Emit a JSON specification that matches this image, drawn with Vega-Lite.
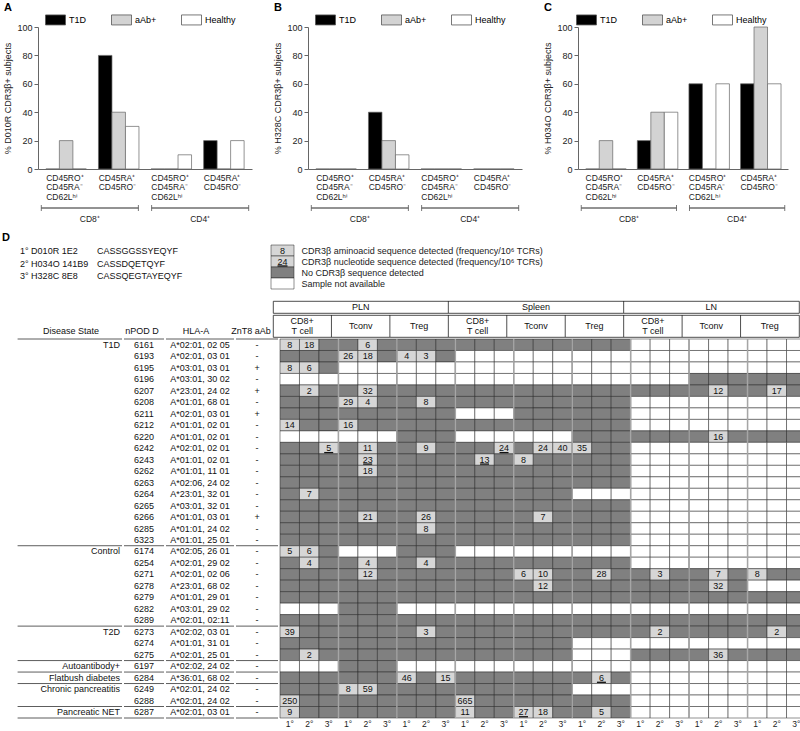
{
"$schema":"https://vega.github.io/schema/vega-lite/v6.json",
"background":"white",
"padding":{"left":2,"top":2,"right":2,"bottom":0},
"config":{"font":"Liberation Sans","view":{"stroke":null},"axis":{"labelColor":"#222","titleColor":"#222","domainColor":"#666","tickColor":"#666","titleFontWeight":"normal"},"title":{"color":"#000"},"text":{"color":"#111"}},
"datasets":{
"bars":[
{"p":"A","g":"CD8|CD45RO⁺|CD45RA⁻|CD62Lʰⁱ","s":"T1D","v":0},{"p":"A","g":"CD8|CD45RO⁺|CD45RA⁻|CD62Lʰⁱ","s":"aAb+","v":20},{"p":"A","g":"CD8|CD45RO⁺|CD45RA⁻|CD62Lʰⁱ","s":"Healthy","v":0},
{"p":"A","g":"CD8|CD45RA⁺|CD45RO⁻","s":"T1D","v":80},{"p":"A","g":"CD8|CD45RA⁺|CD45RO⁻","s":"aAb+","v":40},{"p":"A","g":"CD8|CD45RA⁺|CD45RO⁻","s":"Healthy","v":30},
{"p":"A","g":"CD4|CD45RO⁺|CD45RA⁻|CD62Lʰⁱ","s":"T1D","v":0},{"p":"A","g":"CD4|CD45RO⁺|CD45RA⁻|CD62Lʰⁱ","s":"aAb+","v":0},{"p":"A","g":"CD4|CD45RO⁺|CD45RA⁻|CD62Lʰⁱ","s":"Healthy","v":10},
{"p":"A","g":"CD4|CD45RA⁺|CD45RO⁻","s":"T1D","v":20},{"p":"A","g":"CD4|CD45RA⁺|CD45RO⁻","s":"aAb+","v":0},{"p":"A","g":"CD4|CD45RA⁺|CD45RO⁻","s":"Healthy","v":20},
{"p":"B","g":"CD8|CD45RO⁺|CD45RA⁻|CD62Lʰⁱ","s":"T1D","v":0},{"p":"B","g":"CD8|CD45RO⁺|CD45RA⁻|CD62Lʰⁱ","s":"aAb+","v":0},{"p":"B","g":"CD8|CD45RO⁺|CD45RA⁻|CD62Lʰⁱ","s":"Healthy","v":0},
{"p":"B","g":"CD8|CD45RA⁺|CD45RO⁻","s":"T1D","v":40},{"p":"B","g":"CD8|CD45RA⁺|CD45RO⁻","s":"aAb+","v":20},{"p":"B","g":"CD8|CD45RA⁺|CD45RO⁻","s":"Healthy","v":10},
{"p":"B","g":"CD4|CD45RO⁺|CD45RA⁻|CD62Lʰⁱ","s":"T1D","v":0},{"p":"B","g":"CD4|CD45RO⁺|CD45RA⁻|CD62Lʰⁱ","s":"aAb+","v":0},{"p":"B","g":"CD4|CD45RO⁺|CD45RA⁻|CD62Lʰⁱ","s":"Healthy","v":0},
{"p":"B","g":"CD4|CD45RA⁺|CD45RO⁻","s":"T1D","v":0},{"p":"B","g":"CD4|CD45RA⁺|CD45RO⁻","s":"aAb+","v":0},{"p":"B","g":"CD4|CD45RA⁺|CD45RO⁻","s":"Healthy","v":0},
{"p":"C","g":"CD8|CD45RO⁺|CD45RA⁻|CD62Lʰⁱ","s":"T1D","v":0},{"p":"C","g":"CD8|CD45RO⁺|CD45RA⁻|CD62Lʰⁱ","s":"aAb+","v":20},{"p":"C","g":"CD8|CD45RO⁺|CD45RA⁻|CD62Lʰⁱ","s":"Healthy","v":0},
{"p":"C","g":"CD8|CD45RA⁺|CD45RO⁻","s":"T1D","v":20},{"p":"C","g":"CD8|CD45RA⁺|CD45RO⁻","s":"aAb+","v":40},{"p":"C","g":"CD8|CD45RA⁺|CD45RO⁻","s":"Healthy","v":40},
{"p":"C","g":"CD4|CD45RO⁺|CD45RA⁻|CD62Lʰⁱ","s":"T1D","v":60},{"p":"C","g":"CD4|CD45RO⁺|CD45RA⁻|CD62Lʰⁱ","s":"aAb+","v":0},{"p":"C","g":"CD4|CD45RO⁺|CD45RA⁻|CD62Lʰⁱ","s":"Healthy","v":60},
{"p":"C","g":"CD4|CD45RA⁺|CD45RO⁻","s":"T1D","v":60},{"p":"C","g":"CD4|CD45RA⁺|CD45RO⁻","s":"aAb+","v":100},{"p":"C","g":"CD4|CD45RA⁺|CD45RO⁻","s":"Healthy","v":60}
],
"pts":[
{"dis":"T1D","npod":"6161","hla":"A*02:01, 02 05","znt8":"-","P81":"8","P82":"18","Pc2":"6","L81":"x","L82":"x","L83":"x","Lc1":"x","Lc2":"x","Lc3":"x","Lr1":"x","Lr2":"x","Lr3":"x"},
{"dis":"","npod":"6193","hla":"A*02:01, 03 01","znt8":"-","Pc1":"26","Pc2":"18","Pr1":"4","Pr2":"3","S81":"x","S82":"x","S83":"x","Sc1":"x","Sc2":"x","Sc3":"x","Sr1":"x","Sr2":"x","Sr3":"x","L81":"x","L82":"x","L83":"x","Lc1":"x","Lc2":"x","Lc3":"x","Lr1":"x","Lr2":"x","Lr3":"x"},
{"dis":"","npod":"6195","hla":"A*03:01, 03 01","znt8":"+","P81":"8","P82":"6","Pc1":"x","Pc2":"x","Pc3":"x","Pr1":"x","Pr2":"x","Pr3":"x","S81":"x","S82":"x","S83":"x","Sc1":"x","Sc2":"x","Sc3":"x","Sr1":"x","Sr2":"x","Sr3":"x","L81":"x","L82":"x","L83":"x","Lc1":"x","Lc2":"x","Lc3":"x","Lr1":"x","Lr2":"x","Lr3":"x"},
{"dis":"","npod":"6196","hla":"A*03:01, 30 02","znt8":"-","P81":"x","P82":"x","P83":"x","Pc1":"x","Pc2":"x","Pc3":"x","Pr1":"x","Pr2":"x","Pr3":"x","S81":"x","S82":"x","S83":"x","Sc1":"x","Sc2":"x","Sc3":"x","Sr1":"x","Sr2":"x","Sr3":"x","L81":"x","L82":"x","L83":"x"},
{"dis":"","npod":"6207","hla":"A*23:01, 24 02","znt8":"+","P82":"2","Pc2":"32","Lc2":"12","Lr2":"17"},
{"dis":"","npod":"6208","hla":"A*01:01, 68 01","znt8":"-","Pc1":"29","Pc2":"4","Pr2":"8","L81":"x","L82":"x","L83":"x","Lc1":"x","Lc2":"x","Lc3":"x","Lr1":"x","Lr2":"x","Lr3":"x"},
{"dis":"","npod":"6211","hla":"A*02:01, 03 01","znt8":"+","S81":"x","S82":"x","S83":"x","L81":"x","L82":"x","L83":"x","Lc1":"x","Lc2":"x","Lc3":"x","Lr1":"x","Lr2":"x","Lr3":"x"},
{"dis":"","npod":"6212","hla":"A*01:01, 02 01","znt8":"-","P81":"14","Pc1":"16","L81":"x","L82":"x","L83":"x","Lc1":"x","Lc2":"x","Lc3":"x","Lr1":"x","Lr2":"x","Lr3":"x"},
{"dis":"","npod":"6220","hla":"A*01:01, 02 01","znt8":"-","P81":"x","P82":"x","P83":"x","Pc1":"x","Pc2":"x","Pc3":"x","S81":"x","S82":"x","S83":"x","Sc1":"x","Sc2":"x","Sc3":"x","Lc2":"16"},
{"dis":"","npod":"6242","hla":"A*02:01, 02 01","znt8":"-","P83":"_5","Pc2":"11","Pr2":"9","S83":"_24","Sc2":"24","Sc3":"40","Sr1":"35","L81":"x","L82":"x","L83":"x","Lc1":"x","Lc2":"x","Lc3":"x","Lr1":"x","Lr2":"x","Lr3":"x"},
{"dis":"","npod":"6243","hla":"A*01:01, 02 01","znt8":"-","Pc2":"_23","S82":"_13","Sc1":"8","L81":"x","L82":"x","L83":"x","Lc1":"x","Lc2":"x","Lc3":"x","Lr1":"x","Lr2":"x","Lr3":"x"},
{"dis":"","npod":"6262","hla":"A*01:01, 11 01","znt8":"-","Pc2":"18","L81":"x","L82":"x","L83":"x","Lc1":"x","Lc2":"x","Lc3":"x","Lr1":"x","Lr2":"x","Lr3":"x"},
{"dis":"","npod":"6263","hla":"A*02:06, 24 02","znt8":"-","L81":"x","L82":"x","L83":"x","Lc1":"x","Lc2":"x","Lc3":"x","Lr1":"x","Lr2":"x","Lr3":"x"},
{"dis":"","npod":"6264","hla":"A*23:01, 32 01","znt8":"-","P82":"7","Sr1":"x","Sr2":"x","Sr3":"x","L81":"x","L82":"x","L83":"x","Lc1":"x","Lc2":"x","Lc3":"x","Lr1":"x","Lr2":"x","Lr3":"x"},
{"dis":"","npod":"6265","hla":"A*03:01, 32 01","znt8":"-","L81":"x","L82":"x","L83":"x","Lc1":"x","Lc2":"x","Lc3":"x","Lr1":"x","Lr2":"x","Lr3":"x"},
{"dis":"","npod":"6266","hla":"A*01:01, 03 01","znt8":"+","Pc2":"21","Pr2":"26","Sc2":"7","L81":"x","L82":"x","L83":"x","Lc1":"x","Lc2":"x","Lc3":"x","Lr1":"x","Lr2":"x","Lr3":"x"},
{"dis":"","npod":"6285","hla":"A*01:01, 24 02","znt8":"-","Pr2":"8","L81":"x","L82":"x","L83":"x","Lc1":"x","Lc2":"x","Lc3":"x","Lr1":"x","Lr2":"x","Lr3":"x"},
{"dis":"","npod":"6323","hla":"A*01:01, 25 01","znt8":"-","L81":"x","L82":"x","L83":"x","Lc1":"x","Lc2":"x","Lc3":"x","Lr1":"x","Lr2":"x","Lr3":"x"},
{"dis":"Control","npod":"6174","hla":"A*02:05, 26 01","znt8":"-","P81":"5","P82":"6","Pc1":"x","Pc2":"x","Pc3":"x","S81":"x","S82":"x","S83":"x","Sc1":"x","Sc2":"x","Sc3":"x","Sr1":"x","Sr2":"x","Sr3":"x","L81":"x","L82":"x","L83":"x","Lc1":"x","Lc2":"x","Lc3":"x","Lr1":"x","Lr2":"x","Lr3":"x"},
{"dis":"","npod":"6254","hla":"A*02:01, 29 02","znt8":"-","P82":"4","Pc2":"4","Pr2":"4","L81":"x","L82":"x","L83":"x","Lc1":"x","Lc2":"x","Lc3":"x","Lr1":"x","Lr2":"x","Lr3":"x"},
{"dis":"","npod":"6271","hla":"A*02:01, 02 06","znt8":"-","Pc2":"12","Sc1":"6","Sc2":"10","Sr2":"28","L82":"3","Lc2":"7","Lr1":"8"},
{"dis":"","npod":"6278","hla":"A*23:01, 68 02","znt8":"-","Sc2":"12","Lc2":"32","Lr1":"x","Lr2":"x","Lr3":"x"},
{"dis":"","npod":"6279","hla":"A*01:01, 29 01","znt8":"-"},
{"dis":"","npod":"6282","hla":"A*03:01, 29 02","znt8":"-","P81":"x","P82":"x","P83":"x","Pr1":"x","Pr2":"x","Pr3":"x","S81":"x","S82":"x","S83":"x","Sc1":"x","Sc2":"x","Sc3":"x","Sr1":"x","Sr2":"x","Sr3":"x","L81":"x","L82":"x","L83":"x","Lc1":"x","Lc2":"x","Lc3":"x","Lr1":"x","Lr2":"x","Lr3":"x"},
{"dis":"","npod":"6289","hla":"A*02:01, 02:11","znt8":"-"},
{"dis":"T2D","npod":"6273","hla":"A*02:02, 03 01","znt8":"-","P81":"39","Pr2":"3","L82":"2","Lr2":"2"},
{"dis":"","npod":"6274","hla":"A*01:01, 31 01","znt8":"-","Sr1":"x","Sr2":"x","Sr3":"x","L81":"x","L82":"x","L83":"x","Lc1":"x","Lc2":"x","Lc3":"x","Lr1":"x","Lr2":"x","Lr3":"x"},
{"dis":"","npod":"6275","hla":"A*02:01, 25 01","znt8":"-","P82":"2","Sr1":"x","Sr2":"x","Sr3":"x","Lc2":"36"},
{"dis":"Autoantibody+","npod":"6197","hla":"A*02:02, 24 02","znt8":"-","P81":"x","P82":"x","P83":"x","Pr1":"x","Pr2":"x","Pr3":"x","S81":"x","S82":"x","S83":"x","Sc1":"x","Sc2":"x","Sc3":"x","Sr1":"x","Sr2":"x","Sr3":"x","L81":"x","L82":"x","L83":"x","Lc1":"x","Lc2":"x","Lc3":"x","Lr1":"x","Lr2":"x","Lr3":"x"},
{"dis":"Flatbush diabetes","npod":"6284","hla":"A*36:01, 68 02","znt8":"-","Pr1":"46","Pr3":"15","Sr2":"_6","L81":"x","L82":"x","L83":"x","Lc1":"x","Lc2":"x","Lc3":"x","Lr1":"x","Lr2":"x","Lr3":"x"},
{"dis":"Chronic pancreatitis","npod":"6249","hla":"A*02:01, 24 02","znt8":"-","Pc1":"8","Pc2":"59","Sr1":"x","Sr2":"x","Sr3":"x","L81":"x","L82":"x","L83":"x","Lc1":"x","Lc2":"x","Lc3":"x","Lr1":"x","Lr2":"x","Lr3":"x"},
{"dis":"","npod":"6288","hla":"A*02:01, 24 02","znt8":"-","P81":"250","S81":"665","L81":"x","L82":"x","L83":"x","Lc1":"x","Lc2":"x","Lc3":"x","Lr1":"x","Lr2":"x","Lr3":"x"},
{"dis":"Pancreatic NET","npod":"6287","hla":"A*02:01, 03 01","znt8":"-","P81":"9","S81":"11","Sc1":"_27","Sc2":"18","Sr2":"5","L81":"x","L82":"x","L83":"x","Lc1":"x","Lc2":"x","Lc3":"x","Lr1":"x","Lr2":"x","Lr3":"x"}
]
},
"spacing":8,
"resolve":{"scale":{"color":"independent"},"legend":{"color":"independent"}},
"vconcat":[
{"hconcat":[
 {"width":1,"height":1,"data":{"values":[{"h":""}]},"mark":{"type":"text"},"encoding":{"text":{"field":"h"}}},
 {"hconcat":[
 {"spacing":36,"bounds":"flush","vconcat":[
  {"title":{"text":"A","anchor":"start","fontSize":11,"fontWeight":"bold","offset":10},"width":214,"height":142,"data":{"name":"bars"},"transform":[{"filter":"datum.p == 'A'"}],
   "mark":{"type":"bar","stroke":"#666","strokeWidth":0.7},
   "encoding":{
    "x":{"field":"g","type":"nominal","sort":null,"scale":{"paddingInner":0.23,"paddingOuter":0.15},"axis":{"title":null,"ticks":false,"labelAngle":0,"labelAlign":"left","labelBaseline":"top","labelOffset":-20,"labelPadding":4,"labelFontSize":8.5,"labelLineHeight":9.5,"labelOverlap":false,"labelExpr":"slice(split(datum.label, '|'), 1)"}},
    "xOffset":{"field":"s","type":"nominal","sort":["T1D","aAb+","Healthy"],"scale":{"paddingInner":0,"paddingOuter":0}},
    "y":{"field":"v","type":"quantitative","scale":{"domain":[0,100]},"axis":{"title":"% D010R CDR3β+ subjects","grid":false,"values":[0,20,40,60,80,100],"tickSize":4,"labelFontSize":9,"labelPadding":2,"titleFontSize":9,"titlePadding":4}},
    "color":{"field":"s","type":"nominal","scale":{"domain":["T1D","aAb+","Healthy"],"range":["#000000","#d3d3d3","#ffffff"]},"legend":{"title":null,"orient":"none","legendX":12,"legendY":-13,"direction":"horizontal","symbolType":"M-2,-1H2V1H-2Z","symbolSize":100,"symbolStrokeColor":"#555","symbolStrokeWidth":0.8,"labelFontSize":9,"labelOffset":8,"columnPadding":22,"padding":0}}
   }},
  {"width":214,"height":6,"data":{"values":[{"s":"CD8⁺"},{"s":"CD4⁺"}]},
   "encoding":{"x":{"field":"s","type":"nominal","sort":null,"scale":{"type":"band","paddingInner":0.12,"paddingOuter":0.03},"axis":{"title":null,"domain":false,"ticks":false,"labelAngle":0,"labelFontSize":8.5,"labelPadding":3}}},
   "layer":[
    {"mark":{"type":"bar","fill":"transparent","stroke":"#555","strokeWidth":0.8},"encoding":{"y":{"datum":0.5,"type":"quantitative","scale":{"domain":[0,1]},"axis":null},"y2":{"datum":0.5}}},
    {"mark":{"type":"rule","color":"#555","strokeWidth":0.8},"encoding":{"x":{"field":"s","type":"nominal","sort":null,"bandPosition":0,"scale":{"type":"band","paddingInner":0.12,"paddingOuter":0.03}}}},
    {"mark":{"type":"rule","color":"#555","strokeWidth":0.8},"encoding":{"x":{"field":"s","type":"nominal","sort":null,"bandPosition":1,"scale":{"type":"band","paddingInner":0.12,"paddingOuter":0.03}}}}
   ]}
 ]},
 {"spacing":36,"bounds":"flush","vconcat":[
  {"title":{"text":"B","anchor":"start","fontSize":11,"fontWeight":"bold","offset":10},"width":214,"height":142,"data":{"name":"bars"},"transform":[{"filter":"datum.p == 'B'"}],
   "mark":{"type":"bar","stroke":"#666","strokeWidth":0.7},
   "encoding":{
    "x":{"field":"g","type":"nominal","sort":null,"scale":{"paddingInner":0.23,"paddingOuter":0.15},"axis":{"title":null,"ticks":false,"labelAngle":0,"labelAlign":"left","labelBaseline":"top","labelOffset":-20,"labelPadding":4,"labelFontSize":8.5,"labelLineHeight":9.5,"labelOverlap":false,"labelExpr":"slice(split(datum.label, '|'), 1)"}},
    "xOffset":{"field":"s","type":"nominal","sort":["T1D","aAb+","Healthy"],"scale":{"paddingInner":0,"paddingOuter":0}},
    "y":{"field":"v","type":"quantitative","scale":{"domain":[0,100]},"axis":{"title":"% H328C CDR3β+ subjects","grid":false,"values":[0,20,40,60,80,100],"tickSize":4,"labelFontSize":9,"labelPadding":2,"titleFontSize":9,"titlePadding":4}},
    "color":{"field":"s","type":"nominal","scale":{"domain":["T1D","aAb+","Healthy"],"range":["#000000","#d3d3d3","#ffffff"]},"legend":{"title":null,"orient":"none","legendX":12,"legendY":-13,"direction":"horizontal","symbolType":"M-2,-1H2V1H-2Z","symbolSize":100,"symbolStrokeColor":"#555","symbolStrokeWidth":0.8,"labelFontSize":9,"labelOffset":8,"columnPadding":22,"padding":0}}
   }},
  {"width":214,"height":6,"data":{"values":[{"s":"CD8⁺"},{"s":"CD4⁺"}]},
   "encoding":{"x":{"field":"s","type":"nominal","sort":null,"scale":{"type":"band","paddingInner":0.12,"paddingOuter":0.03},"axis":{"title":null,"domain":false,"ticks":false,"labelAngle":0,"labelFontSize":8.5,"labelPadding":3}}},
   "layer":[
    {"mark":{"type":"bar","fill":"transparent","stroke":"#555","strokeWidth":0.8},"encoding":{"y":{"datum":0.5,"type":"quantitative","scale":{"domain":[0,1]},"axis":null},"y2":{"datum":0.5}}},
    {"mark":{"type":"rule","color":"#555","strokeWidth":0.8},"encoding":{"x":{"field":"s","type":"nominal","sort":null,"bandPosition":0,"scale":{"type":"band","paddingInner":0.12,"paddingOuter":0.03}}}},
    {"mark":{"type":"rule","color":"#555","strokeWidth":0.8},"encoding":{"x":{"field":"s","type":"nominal","sort":null,"bandPosition":1,"scale":{"type":"band","paddingInner":0.12,"paddingOuter":0.03}}}}
   ]}
 ]},
 {"spacing":36,"bounds":"flush","vconcat":[
  {"title":{"text":"C","anchor":"start","fontSize":11,"fontWeight":"bold","offset":10},"width":210,"height":142,"data":{"name":"bars"},"transform":[{"filter":"datum.p == 'C'"}],
   "mark":{"type":"bar","stroke":"#666","strokeWidth":0.7},
   "encoding":{
    "x":{"field":"g","type":"nominal","sort":null,"scale":{"paddingInner":0.23,"paddingOuter":0.15},"axis":{"title":null,"ticks":false,"labelAngle":0,"labelAlign":"left","labelBaseline":"top","labelOffset":-20,"labelPadding":4,"labelFontSize":8.5,"labelLineHeight":9.5,"labelOverlap":false,"labelExpr":"slice(split(datum.label, '|'), 1)"}},
    "xOffset":{"field":"s","type":"nominal","sort":["T1D","aAb+","Healthy"],"scale":{"paddingInner":0,"paddingOuter":0}},
    "y":{"field":"v","type":"quantitative","scale":{"domain":[0,100]},"axis":{"title":"% H034O CDR3β+ subjects","grid":false,"values":[0,20,40,60,80,100],"tickSize":4,"labelFontSize":9,"labelPadding":2,"titleFontSize":9,"titlePadding":4}},
    "color":{"field":"s","type":"nominal","scale":{"domain":["T1D","aAb+","Healthy"],"range":["#000000","#d3d3d3","#ffffff"]},"legend":{"title":null,"orient":"none","legendX":3,"legendY":-13,"direction":"horizontal","symbolType":"M-2,-1H2V1H-2Z","symbolSize":100,"symbolStrokeColor":"#555","symbolStrokeWidth":0.8,"labelFontSize":9,"labelOffset":8,"columnPadding":22,"padding":0}}
   }},
  {"width":210,"height":6,"data":{"values":[{"s":"CD8⁺"},{"s":"CD4⁺"}]},
   "encoding":{"x":{"field":"s","type":"nominal","sort":null,"scale":{"type":"band","paddingInner":0.12,"paddingOuter":0.03},"axis":{"title":null,"domain":false,"ticks":false,"labelAngle":0,"labelFontSize":8.5,"labelPadding":3}}},
   "layer":[
    {"mark":{"type":"bar","fill":"transparent","stroke":"#555","strokeWidth":0.8},"encoding":{"y":{"datum":0.5,"type":"quantitative","scale":{"domain":[0,1]},"axis":null},"y2":{"datum":0.5}}},
    {"mark":{"type":"rule","color":"#555","strokeWidth":0.8},"encoding":{"x":{"field":"s","type":"nominal","sort":null,"bandPosition":0,"scale":{"type":"band","paddingInner":0.12,"paddingOuter":0.03}}}},
    {"mark":{"type":"rule","color":"#555","strokeWidth":0.8},"encoding":{"x":{"field":"s","type":"nominal","sort":null,"bandPosition":1,"scale":{"type":"band","paddingInner":0.12,"paddingOuter":0.03}}}}
   ]}
 ]}
 ],"spacing":21,"resolve":{"scale":{"color":"independent"},"legend":{"color":"independent"}}}
],"spacing":0,"resolve":{"scale":{"color":"independent"},"legend":{"color":"independent"}}},
{"title":{"text":"D","anchor":"start","fontSize":11,"fontWeight":"bold","offset":2},"spacing":10,"vconcat":[
 {"hconcat":[
  {"width":190,"height":37.5,"data":{"values":[{"k":"1°","part":"tcr","t":"1° D010R 1E2"},{"k":"1°","part":"cdr3","t":"CASSGGSSYEQYF"},{"k":"2°","part":"tcr","t":"2° H034O 141B9"},{"k":"2°","part":"cdr3","t":"CASSDQETQYF"},{"k":"3°","part":"tcr","t":"3° H328C 8E8"},{"k":"3°","part":"cdr3","t":"CASSQEGTAYEQYF"}]},
   "mark":{"type":"text","align":"left","fontSize":9},
   "encoding":{"y":{"field":"k","type":"nominal","sort":null,"scale":{"type":"band","paddingInner":0,"paddingOuter":0},"axis":null},"x":{"field":"part","type":"nominal","sort":null,"bandPosition":0,"scale":{"type":"band","paddingInner":0,"paddingOuter":0.234},"axis":null},"text":{"field":"t"}}},
  {"width":23,"height":44,"data":{"values":[{"d":"CDR3β aminoacid sequence detected (frequency/10⁶ TCRs)","st":"aa","ex":"8"},{"d":"CDR3β nucleotide sequence detected (frequency/10⁶ TCRs)","st":"nt","ex":"24"},{"d":"No CDR3β sequence detected","st":"none","ex":""},{"d":"Sample not available","st":"na","ex":""}]},
   "encoding":{"y":{"field":"d","type":"nominal","sort":null,"scale":{"type":"band","paddingInner":0,"paddingOuter":0},"axis":{"orient":"right","title":null,"domain":false,"ticks":false,"labelPadding":7,"labelFontSize":9,"labelLimit":0}}},
   "layer":[
    {"mark":{"type":"rect","stroke":"#222","strokeWidth":0.5},"encoding":{"fill":{"field":"st","type":"nominal","scale":{"domain":["aa","nt","none","na"],"range":["#d6d6d6","#d6d6d6","#808080","#ffffff"]},"legend":null}}},
    {"mark":{"type":"text","fontSize":9},"encoding":{"text":{"field":"ex"}}},
    {"mark":{"type":"tick","orient":"horizontal","size":10,"thickness":1.3,"yOffset":4.5,"color":"#111"},"encoding":{"opacity":{"condition":{"test":"datum.st == 'nt'","value":1},"value":0}}}
   ]}
 ],"spacing":78},
 {"spacing":0,"vconcat":[
  {"hconcat":[
   {"width":270,"height":12,"data":{"values":[{"h":""}]},"mark":{"type":"text"},"encoding":{"text":{"field":"h"}}},
   {"width":526,"height":12,"view":{"stroke":"#222","strokeWidth":0.8},
    "layer":[
     {"data":{"values":[{"col":"Pc2","t":"PLN"},{"col":"Sc2","t":"Spleen"},{"col":"Lc2","t":"LN"}]},"mark":{"type":"text","fontSize":9},"encoding":{"x":{"field":"col","type":"nominal","scale":{"type":"band","domain":["P81","P82","P83","Pc1","Pc2","Pc3","Pr1","Pr2","Pr3","S81","S82","S83","Sc1","Sc2","Sc3","Sr1","Sr2","Sr3","L81","L82","L83","Lc1","Lc2","Lc3","Lr1","Lr2","Lr3"],"paddingInner":0,"paddingOuter":0},"axis":null},"text":{"field":"t"}}},
     {"data":{"values":[{"col":"S81"},{"col":"L81"}]},"mark":{"type":"rule","color":"#222","strokeWidth":0.8},"encoding":{"x":{"field":"col","type":"nominal","bandPosition":0,"scale":{"type":"band","domain":["P81","P82","P83","Pc1","Pc2","Pc3","Pr1","Pr2","Pr3","S81","S82","S83","Sc1","Sc2","Sc3","Sr1","Sr2","Sr3","L81","L82","L83","Lc1","Lc2","Lc3","Lr1","Lr2","Lr3"],"paddingInner":0,"paddingOuter":0},"axis":null}}}
    ]}
  ],"spacing":0},
  {"hconcat":[
   {"width":120,"height":22,"data":{"values":[{"h":"Disease State"}]},"mark":{"type":"text","fontSize":9,"dy":5,"dx":9},"encoding":{"text":{"field":"h"}}},
   {"width":40,"height":22,"data":{"values":[{"h":"nPOD  D"}]},"mark":{"type":"text","fontSize":9,"dy":5},"encoding":{"text":{"field":"h"}}},
   {"width":68,"height":22,"data":{"values":[{"h":"HLA-A"}]},"mark":{"type":"text","fontSize":9,"dy":5},"encoding":{"text":{"field":"h"}}},
   {"width":42,"height":22,"data":{"values":[{"h":"ZnT8 aAb"}]},"mark":{"type":"text","fontSize":9,"dy":5},"encoding":{"text":{"field":"h"}}},
   {"width":526,"height":22,"view":{"stroke":"#222","strokeWidth":0.8},
    "layer":[
     {"data":{"values":[{"col":"P82","t":"CD8+\nT cell"},{"col":"S82","t":"CD8+\nT cell"},{"col":"L82","t":"CD8+\nT cell"}]},"mark":{"type":"text","fontSize":9,"lineBreak":"\n","lineHeight":10.5,"dy":-5.5},"encoding":{"x":{"field":"col","type":"nominal","scale":{"type":"band","domain":["P81","P82","P83","Pc1","Pc2","Pc3","Pr1","Pr2","Pr3","S81","S82","S83","Sc1","Sc2","Sc3","Sr1","Sr2","Sr3","L81","L82","L83","Lc1","Lc2","Lc3","Lr1","Lr2","Lr3"],"paddingInner":0,"paddingOuter":0},"axis":null},"text":{"field":"t"}}},
     {"data":{"values":[{"col":"Pc2","t":"Tconv"},{"col":"Pr2","t":"Treg"},{"col":"Sc2","t":"Tconv"},{"col":"Sr2","t":"Treg"},{"col":"Lc2","t":"Tconv"},{"col":"Lr2","t":"Treg"}]},"mark":{"type":"text","fontSize":9},"encoding":{"x":{"field":"col","type":"nominal","scale":{"type":"band","domain":["P81","P82","P83","Pc1","Pc2","Pc3","Pr1","Pr2","Pr3","S81","S82","S83","Sc1","Sc2","Sc3","Sr1","Sr2","Sr3","L81","L82","L83","Lc1","Lc2","Lc3","Lr1","Lr2","Lr3"],"paddingInner":0,"paddingOuter":0},"axis":null},"text":{"field":"t"}}},
     {"data":{"values":[{"col":"Pc1"},{"col":"Pr1"},{"col":"S81"},{"col":"Sc1"},{"col":"Sr1"},{"col":"L81"},{"col":"Lc1"},{"col":"Lr1"}]},"mark":{"type":"rule","color":"#222","strokeWidth":0.8},"encoding":{"x":{"field":"col","type":"nominal","bandPosition":0,"scale":{"type":"band","domain":["P81","P82","P83","Pc1","Pc2","Pc3","Pr1","Pr2","Pr3","S81","S82","S83","Sc1","Sc2","Sc3","Sr1","Sr2","Sr3","L81","L82","L83","Lc1","Lc2","Lc3","Lr1","Lr2","Lr3"],"paddingInner":0,"paddingOuter":0},"axis":null}}}
    ]}
  ],"spacing":0},
  {"hconcat":[
   {"width":120,"height":379,"data":{"name":"pts"},
    "encoding":{"y":{"field":"npod","type":"nominal","sort":null,"scale":{"paddingInner":0,"paddingOuter":0},"axis":null}},
    "layer":[
     {"mark":{"type":"text","fontSize":9,"align":"right","dx":-2},"encoding":{"x":{"value":"width"},"text":{"field":"dis"}}},
     {"mark":{"type":"rule","color":"#333","strokeWidth":0.8},"encoding":{"x":{"datum":0.13,"type":"quantitative","scale":{"domain":[0,1]},"axis":null},"x2":{"datum":1},"y":{"field":"npod","type":"nominal","sort":null,"bandPosition":0,"scale":{"paddingInner":0,"paddingOuter":0},"axis":null},"strokeOpacity":{"condition":{"test":"datum.dis != ''","value":1},"value":0}}},
     {"mark":{"type":"rule","color":"#333","strokeWidth":0.8},"encoding":{"x":{"datum":0.13,"type":"quantitative","scale":{"domain":[0,1]},"axis":null},"x2":{"datum":1},"y":{"field":"npod","type":"nominal","sort":null,"bandPosition":1,"scale":{"paddingInner":0,"paddingOuter":0},"axis":null},"strokeOpacity":{"condition":{"test":"datum.npod == '6287'","value":1},"value":0}}}
    ]},
   {"width":40,"height":379,"data":{"name":"pts"},
    "encoding":{"y":{"field":"npod","type":"nominal","sort":null,"scale":{"paddingInner":0,"paddingOuter":0},"axis":null}},
    "layer":[
     {"mark":{"type":"text","fontSize":9},"encoding":{"text":{"field":"npod"}}},
     {"mark":{"type":"rule","color":"#333","strokeWidth":0.8},"encoding":{"y":{"field":"npod","type":"nominal","sort":null,"bandPosition":0,"scale":{"paddingInner":0,"paddingOuter":0},"axis":null},"strokeOpacity":{"condition":{"test":"datum.dis != ''","value":1},"value":0}}},
     {"mark":{"type":"rule","color":"#333","strokeWidth":0.8},"encoding":{"y":{"field":"npod","type":"nominal","sort":null,"bandPosition":1,"scale":{"paddingInner":0,"paddingOuter":0},"axis":null},"strokeOpacity":{"condition":{"test":"datum.npod == '6287'","value":1},"value":0}}}
    ]},
   {"width":68,"height":379,"data":{"name":"pts"},
    "encoding":{"y":{"field":"npod","type":"nominal","sort":null,"scale":{"paddingInner":0,"paddingOuter":0},"axis":null}},
    "layer":[
     {"mark":{"type":"text","fontSize":9},"encoding":{"text":{"field":"hla"}}},
     {"mark":{"type":"rule","color":"#333","strokeWidth":0.8},"encoding":{"y":{"field":"npod","type":"nominal","sort":null,"bandPosition":0,"scale":{"paddingInner":0,"paddingOuter":0},"axis":null},"strokeOpacity":{"condition":{"test":"datum.dis != ''","value":1},"value":0}}},
     {"mark":{"type":"rule","color":"#333","strokeWidth":0.8},"encoding":{"y":{"field":"npod","type":"nominal","sort":null,"bandPosition":1,"scale":{"paddingInner":0,"paddingOuter":0},"axis":null},"strokeOpacity":{"condition":{"test":"datum.npod == '6287'","value":1},"value":0}}}
    ]},
   {"width":42,"height":379,"data":{"name":"pts"},
    "encoding":{"y":{"field":"npod","type":"nominal","sort":null,"scale":{"paddingInner":0,"paddingOuter":0},"axis":null}},
    "layer":[
     {"mark":{"type":"text","fontSize":9},"encoding":{"text":{"field":"znt8"}}},
     {"mark":{"type":"rule","color":"#333","strokeWidth":0.8},"encoding":{"y":{"field":"npod","type":"nominal","sort":null,"bandPosition":0,"scale":{"paddingInner":0,"paddingOuter":0},"axis":null},"strokeOpacity":{"condition":{"test":"datum.dis != ''","value":1},"value":0}}},
     {"mark":{"type":"rule","color":"#333","strokeWidth":0.8},"encoding":{"y":{"field":"npod","type":"nominal","sort":null,"bandPosition":1,"scale":{"paddingInner":0,"paddingOuter":0},"axis":null},"strokeOpacity":{"condition":{"test":"datum.npod == '6287'","value":1},"value":0}}}
    ]},
   {"width":526,"height":379,
    "encoding":{"x":{"field":"col","type":"nominal","scale":{"domain":["P81","P82","P83","Pc1","Pc2","Pc3","Pr1","Pr2","Pr3","S81","S82","S83","Sc1","Sc2","Sc3","Sr1","Sr2","Sr3","L81","L82","L83","Lc1","Lc2","Lc3","Lr1","Lr2","Lr3"],"paddingInner":0,"paddingOuter":0},"axis":{"title":null,"orient":"bottom","domain":false,"ticks":false,"labelAngle":0,"labelFontSize":8.5,"labelPadding":1,"labelExpr":"substring(datum.label, 2) + '°'"}}},
    "layer":[
     {"data":{"name":"pts"},
      "transform":[
       {"fold":["P81","P82","P83","Pc1","Pc2","Pc3","Pr1","Pr2","Pr3","S81","S82","S83","Sc1","Sc2","Sc3","Sr1","Sr2","Sr3","L81","L82","L83","Lc1","Lc2","Lc3","Lr1","Lr2","Lr3"],"as":["col","v"]},
       {"calculate":"datum.v == null || datum.v == 'n' ? 'none' : (datum.v == 'x' ? 'na' : (substring(datum.v, 0, 1) == '_' ? 'nt' : 'aa'))","as":"st"},
       {"calculate":"datum.st == 'aa' ? datum.v : (datum.st == 'nt' ? substring(datum.v, 1) : '')","as":"lab"}
      ],
      "encoding":{"y":{"field":"npod","type":"nominal","sort":null,"scale":{"paddingInner":0,"paddingOuter":0},"axis":null}},
      "layer":[
       {"mark":{"type":"rect","stroke":"#222","strokeWidth":0.5},"encoding":{"fill":{"field":"st","type":"nominal","scale":{"domain":["aa","nt","none","na"],"range":["#d6d6d6","#d6d6d6","#808080","#ffffff"]},"legend":null}}},
       {"mark":{"type":"text","fontSize":9},"encoding":{"text":{"field":"lab"}}},
       {"mark":{"type":"tick","orient":"horizontal","size":9,"thickness":1.3,"yOffset":4.5,"color":"#111"},"encoding":{"opacity":{"condition":{"test":"datum.st == 'nt'","value":1},"value":0}}}
      ]},
     {"data":{"values":[{"col":"Pc1"},{"col":"Pr1"},{"col":"S81"},{"col":"Sc1"},{"col":"Sr1"},{"col":"L81"},{"col":"Lc1"},{"col":"Lr1"}]},
      "mark":{"type":"rule","color":"#a6a6a6","strokeWidth":1.5},
      "encoding":{"x":{"field":"col","type":"nominal","bandPosition":0,"scale":{"domain":["P81","P82","P83","Pc1","Pc2","Pc3","Pr1","Pr2","Pr3","S81","S82","S83","Sc1","Sc2","Sc3","Sr1","Sr2","Sr3","L81","L82","L83","Lc1","Lc2","Lc3","Lr1","Lr2","Lr3"],"paddingInner":0,"paddingOuter":0}}}}
    ]}
  ],"spacing":0}
 ]}
]}
]
}
